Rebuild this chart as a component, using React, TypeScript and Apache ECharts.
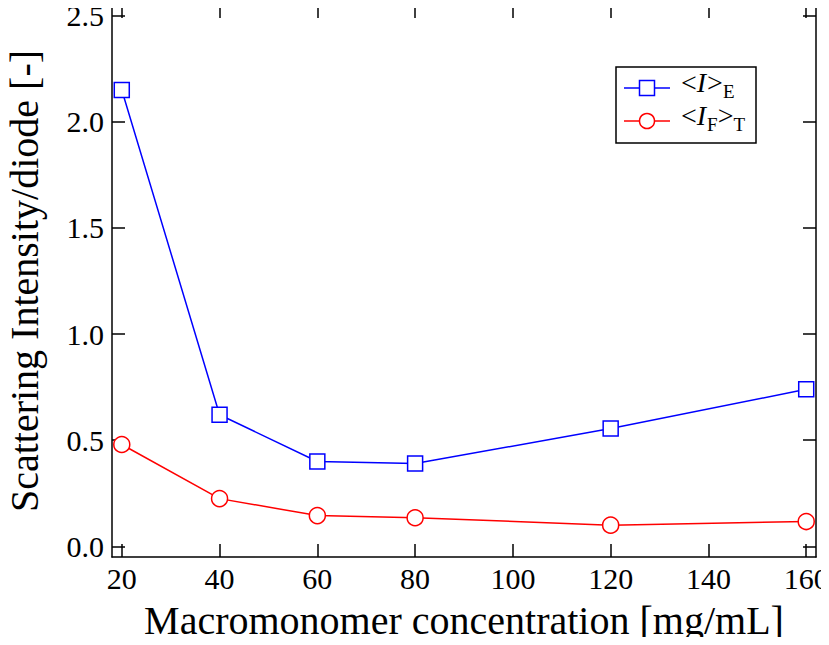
import React, { useEffect, useRef } from "react";
import * as echarts from "echarts";

// Macromonomer concentration [mg/mL]
const concentrations = [20, 40, 60, 80, 120, 160];
// <I>_E
const intensityE = [2.15, 0.62, 0.4, 0.39, 0.555, 0.74];
// <I_F>_T
const intensityFT = [0.48, 0.225, 0.145, 0.135, 0.1, 0.117];

const xTicks = [20, 40, 60, 80, 100, 120, 140, 160];
const yTicks = [0, 0.5, 1.0, 1.5, 2.0, 2.5];

const FONT = "'Liberation Serif', 'Times New Roman', serif";
const BLUE = "#0000ff";
const RED = "#ff0000";

const tickStyle = { color: "#000", width: 1.5 };

function makeXAxis(position: "bottom" | "top", labels: boolean) {
  return {
    type: "value",
    position,
    min: 18,
    max: 162,
    axisLine: { show: true, onZero: false, lineStyle: { color: "#000", width: 1.5 } },
    axisTick: { show: true, inside: true, length: 13, customValues: xTicks, lineStyle: tickStyle },
    axisLabel: {
      show: labels,
      customValues: xTicks,
      fontSize: 30,
      fontFamily: FONT,
      color: "#000",
      margin: 6,
    },
    splitLine: { show: false },
  };
}

function makeYAxis(position: "left" | "right", labels: boolean) {
  return {
    type: "value",
    position,
    min: -0.05,
    max: 2.55,
    axisLine: { show: true, onZero: false, lineStyle: { color: "#000", width: 1.5 } },
    axisTick: { show: true, inside: true, length: 13, customValues: yTicks, lineStyle: tickStyle },
    axisLabel: {
      show: labels,
      customValues: yTicks,
      fontSize: 30,
      fontFamily: FONT,
      color: "#000",
      margin: 8,
      formatter: (v: number) => v.toFixed(1),
    },
    splitLine: { show: false },
  };
}

// Rich-text styles for the legend: normal, italic, subscript
const legendRich = {
  n: { fontSize: 28, lineHeight: 24, fontFamily: FONT, color: "#000", padding: [0, 0, 5, 0], verticalAlign: "bottom" },
  i: { fontSize: 28, lineHeight: 24, fontFamily: FONT, fontStyle: "italic", color: "#000", padding: [0, 1, 5, 0], verticalAlign: "bottom" },
  s: { fontSize: 19, lineHeight: 18, fontFamily: FONT, color: "#000", verticalAlign: "bottom" },
};

export default function App() {
  const ref = useRef<HTMLDivElement>(null);

  useEffect(() => {
    if (!ref.current) return;
    const chart = echarts.init(ref.current, null, { renderer: "svg" });

    const xAxisBottom: any = makeXAxis("bottom", true);
    xAxisBottom.name = "Macromonomer concentration [mg/mL]";
    xAxisBottom.nameLocation = "middle";
    xAxisBottom.nameGap = 43;
    xAxisBottom.nameTextStyle = { fontSize: 40, fontFamily: FONT, color: "#000" };

    const yAxisLeft: any = makeYAxis("left", true);
    yAxisLeft.name = "Scattering Intensity/diode [-]";
    yAxisLeft.nameLocation = "middle";
    yAxisLeft.nameGap = 68;
    yAxisLeft.nameTextStyle = { fontSize: 40, fontFamily: FONT, color: "#000" };

    const legendX = 616;
    const legendY = 67;
    const rowYs = [88, 121];

    chart.setOption({
      animation: false,
      backgroundColor: "#fff",
      grid: { left: 112, right: 13, top: 5, bottom: 88, containLabel: false, outerBoundsMode: "none" },
      xAxis: [xAxisBottom, makeXAxis("top", false)],
      yAxis: [yAxisLeft, makeYAxis("right", false)],
      series: [
        {
          name: "<I>E",
          type: "line",
          data: concentrations.map((c, k) => [c, intensityE[k]]),
          symbol: "rect",
          symbolSize: 15,
          lineStyle: { color: BLUE, width: 1.5 },
          itemStyle: { color: "#fff", borderColor: BLUE, borderWidth: 1.5 },
          z: 3,
        },
        {
          name: "<IF>T",
          type: "line",
          data: concentrations.map((c, k) => [c, intensityFT[k]]),
          symbol: "circle",
          symbolSize: 16,
          lineStyle: { color: RED, width: 1.5 },
          itemStyle: { color: "#fff", borderColor: RED, borderWidth: 1.5 },
          z: 3,
        },
      ],
      graphic: [
        {
          type: "rect",
          shape: { x: legendX, y: legendY, width: 140, height: 76 },
          style: { fill: "#fff", stroke: "#000", lineWidth: 1.5 },
          z: 10,
        },
        {
          type: "line",
          shape: { x1: 624, y1: rowYs[0], x2: 670, y2: rowYs[0] },
          style: { stroke: BLUE, lineWidth: 1.5 },
          z: 11,
        },
        {
          type: "rect",
          shape: { x: 647 - 7.5, y: rowYs[0] - 7.5, width: 15, height: 15 },
          style: { fill: "#fff", stroke: BLUE, lineWidth: 1.5 },
          z: 12,
        },
        {
          type: "line",
          shape: { x1: 624, y1: rowYs[1], x2: 670, y2: rowYs[1] },
          style: { stroke: RED, lineWidth: 1.5 },
          z: 11,
        },
        {
          type: "circle",
          shape: { cx: 647, cy: rowYs[1], r: 7.5 },
          style: { fill: "#fff", stroke: RED, lineWidth: 1.5 },
          z: 12,
        },
        {
          type: "text",
          x: 681,
          y: rowYs[0] + 1,
          z: 12,
          style: {
            text: "{n|<}{i|I}{n|>}{s|E}",
            rich: legendRich,
            verticalAlign: "middle",
          },
        },
        {
          type: "text",
          x: 681,
          y: rowYs[1] + 1,
          z: 12,
          style: {
            text: "{n|<}{i|I}{s|F}{n|>}{s|T}",
            rich: legendRich,
            verticalAlign: "middle",
          },
        },
      ],
    });

    return () => chart.dispose();
  }, []);

  return <div ref={ref} style={{ width: 829, height: 645, margin: -8 }} />;
}
